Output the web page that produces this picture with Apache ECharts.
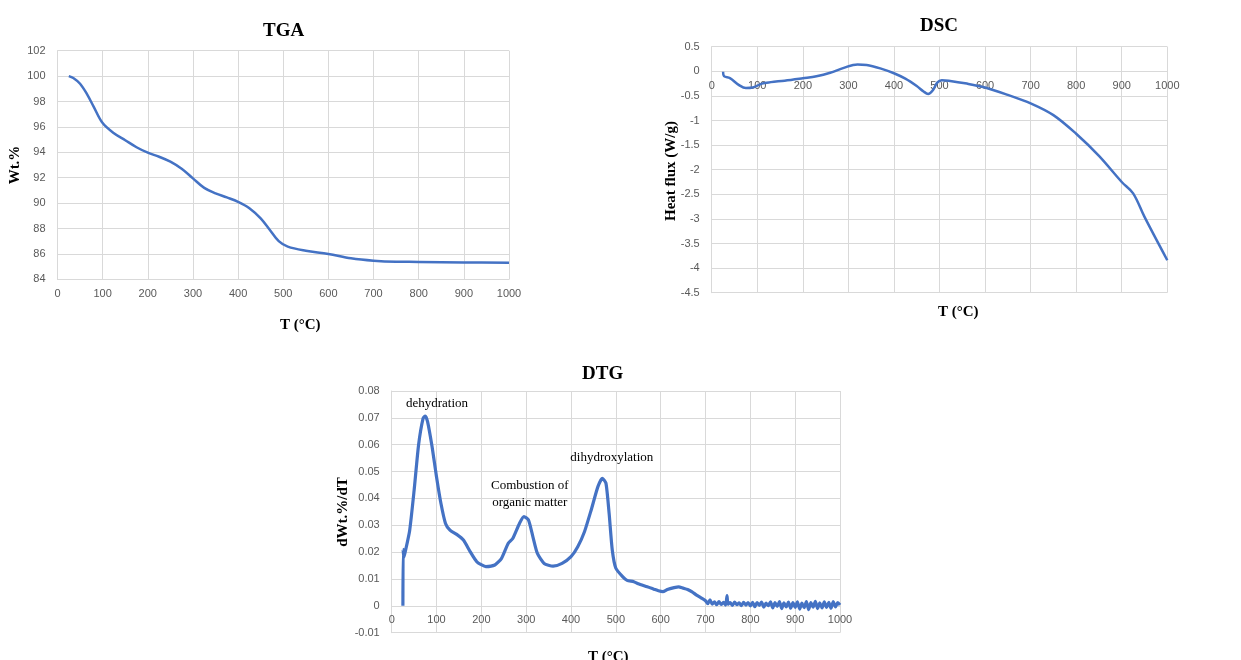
<!DOCTYPE html>
<html>
<head>
<meta charset="utf-8">
<script src="https://cdn.jsdelivr.net/npm/echarts@6/dist/echarts.min.js"></script>
<style>
  html, body { margin: 0; padding: 0; background: #fff; }
  #chart { width: 1241px; height: 660px; }
</style>
</head>
<body>
<div id="chart"></div>
<script>
// Thermal analysis curves: TGA (mass loss), DSC (heat flux), DTG (derivative of mass loss)

// TGA: temperature (°C) and weight %
const tgaT = [25, 35, 50, 65, 80, 100, 125, 150, 175, 200, 225, 250, 275, 300, 325, 350, 375, 400, 425, 450, 470, 490, 510, 550, 600, 650, 700, 750, 800, 900, 1000];
const tgaW = [100, 99.85, 99.4, 98.6, 97.6, 96.3, 95.5, 94.95, 94.4, 93.97, 93.65, 93.26, 92.7, 91.95, 91.2, 90.77, 90.45, 90.1, 89.6, 88.8, 87.9, 87.0, 86.57, 86.25, 86.0, 85.65, 85.46, 85.38, 85.37, 85.33, 85.3];

// DSC: temperature (°C) and heat flux (W/g)
const dscT = [25, 27, 40, 60, 75, 90, 110, 130, 160, 200, 230, 260, 290, 320, 340, 370, 400, 425, 450, 465, 475, 485, 495, 505, 520, 560, 600, 650, 700, 750, 800, 850, 900, 925, 950, 1000];
const dscH = [-0.01, -0.1, -0.14, -0.28, -0.34, -0.33, -0.25, -0.22, -0.19, -0.14, -0.1, -0.03, 0.07, 0.14, 0.13, 0.06, -0.04, -0.15, -0.3, -0.41, -0.46, -0.39, -0.23, -0.18, -0.19, -0.25, -0.33, -0.48, -0.65, -0.89, -1.27, -1.72, -2.25, -2.48, -2.96, -3.84];

// DTG: temperature (°C) and dWt.%/dT
const dtgT = [25, 25.5, 27, 30, 40, 50, 60, 70, 75, 80, 90, 100, 110, 120, 130, 145, 160, 175, 190, 210, 230, 245, 260, 270, 285, 295, 305, 315, 325, 340, 360, 380, 400, 415, 430, 445, 460, 470, 478, 485, 492, 500, 515, 525, 540, 550, 570, 585, 595, 605, 615, 630, 640, 650, 660, 670, 680, 690,
  700, 705, 710, 715, 720, 725, 730, 735, 740, 745, 748, 750, 755, 760, 765, 770, 775, 780, 785, 790, 795, 800, 805, 810, 815, 820, 825, 830, 835, 840, 845, 850, 855, 860, 865, 870, 875, 880, 885, 890, 895, 900, 905, 910, 915, 920, 925, 930, 935, 940, 945, 950, 955, 960, 965, 970, 975, 980, 985, 990, 995, 1000];
const dtgV = [0, 0.021, 0.018, 0.02, 0.028, 0.043, 0.06, 0.0698, 0.0707, 0.0686, 0.0593, 0.048, 0.038, 0.0307, 0.0282, 0.0266, 0.0245, 0.0202, 0.0164, 0.0146, 0.0152, 0.0177, 0.0233, 0.0251, 0.0307, 0.0332, 0.032, 0.0257, 0.0195, 0.0158, 0.0148, 0.0158, 0.0183, 0.022, 0.0276, 0.0357, 0.0444, 0.0475, 0.0456, 0.0344, 0.0208, 0.014, 0.0109, 0.0095, 0.009, 0.0082, 0.0071, 0.0062, 0.0056, 0.0053, 0.0061, 0.0068, 0.0071, 0.0066, 0.0061, 0.0052, 0.004, 0.003,
  0.0019, 0.0008, 0.0022, 0.0006, 0.0015, 0.0004, 0.0016, 0.0005, 0.0013, 0.0003, 0.0038, 0.0006, 0.0012, 0.0002, 0.0014, 0.0004, 0.0011, 0.0001, 0.0013, 0.0003, 0.0012, 0.0000, 0.0013, -0.0003, 0.0012, 0.0002, 0.0014, -0.0005, 0.0010, 0.0001, 0.0015, -0.0008, 0.0012, -0.0002, 0.0016, -0.0010, 0.0011, -0.0004, 0.0014, -0.0009, 0.0012, -0.0006, 0.0015, -0.0012, 0.0010, -0.0007, 0.0016, -0.0014, 0.0012, -0.0005, 0.0017, -0.0010, 0.0011, -0.0008, 0.0015, -0.0006, 0.0013, -0.0009, 0.0016, -0.0004, 0.0012, 0.0003];

// DTG event labels: [text, T, value]
const dtgEvents = [
  ['dehydration', 101, 0.0753],
  ['Combustion of\norganic matter', 308, 0.0418],
  ['dihydroxylation', 491, 0.0552]
];

// Y ranges: [min, max, interval]
const tgaY = [84, 102, 2];
const dscY = [-4.5, 0.5, 0.5];
const dtgY = [-0.01, 0.08, 0.01];

const pair = (xs, ys) => xs.map((x, i) => [x, ys[i]]);

const BLUE = '#4472C4';
const GRID = '#d9d9d9';
const TICK = '#595959';
const SANS = 'Liberation Sans';
const SERIF = 'Liberation Serif';

const grids = [
  { left: 57.5, top: 50.7, width: 451.5, height: 228.6 },
  { left: 711.7, top: 46.7, width: 455.6, height: 246 },
  { left: 391.7, top: 391, width: 448.3, height: 241.7 }
];

// Temperature axis crosses the value axis at 0 when the range spans zero
function xAx(gridIndex, yr) {
  const h = grids[gridIndex].height;
  const crossesZero = yr[0] < 0 && yr[1] > 0;
  const offset = crossesZero ? -(0 - yr[0]) / (yr[1] - yr[0]) * h : 0;
  return {
    type: 'value', gridIndex, min: 0, max: 1000, interval: 100, position: 'bottom', offset,
    axisLine: { show: true, onZero: false, lineStyle: { color: GRID, width: 1 } },
    axisTick: { show: false },
    axisLabel: { color: TICK, fontFamily: SANS, fontSize: 11, margin: 9, showMaxLabel: true, showMinLabel: true, formatter: v => String(v) },
    splitLine: { show: true, lineStyle: { color: GRID, width: 1 } }
  };
}
function yAx(gridIndex, yr, fmt) {
  return {
    type: 'value', gridIndex, min: yr[0], max: yr[1], interval: yr[2],
    axisLine: { show: true, onZero: false, lineStyle: { color: GRID, width: 1 } },
    axisTick: { show: false },
    axisLabel: { color: TICK, fontFamily: SANS, fontSize: 11, margin: 12, formatter: fmt },
    splitLine: { show: true, lineStyle: { color: GRID, width: 1 } }
  };
}
function heading(text, x, y, size) {
  return { type: 'text', left: x, top: y, style: { text, font: 'bold ' + size + 'px "' + SERIF + '"', fill: '#000', textAlign: 'center', textVerticalAlign: 'middle' } };
}
function sideHeading(text, x, y) {
  return { type: 'text', x, y, rotation: Math.PI / 2, style: { text, font: 'bold 15px "' + SERIF + '"', fill: '#000', textAlign: 'center', textVerticalAlign: 'middle' } };
}

const chart = echarts.init(document.getElementById('chart'), null, { renderer: 'canvas' });
chart.setOption({
  animation: false,
  backgroundColor: '#fff',
  grid: grids,
  xAxis: [xAx(0, tgaY), xAx(1, dscY), xAx(2, dtgY)],
  yAxis: [
    yAx(0, tgaY),
    yAx(1, dscY, v => String(+v.toFixed(1))),
    yAx(2, dtgY, v => String(+v.toFixed(2)))
  ],
  series: [
    { type: 'line', xAxisIndex: 0, yAxisIndex: 0, data: pair(tgaT, tgaW), smooth: 0.35, showSymbol: false, lineStyle: { color: BLUE, width: 2.5 } },
    { type: 'line', xAxisIndex: 1, yAxisIndex: 1, data: pair(dscT, dscH), smooth: 0.35, showSymbol: false, lineStyle: { color: BLUE, width: 2.5 } },
    {
      type: 'line', xAxisIndex: 2, yAxisIndex: 2, data: pair(dtgT, dtgV), smooth: 0.2, showSymbol: false,
      lineStyle: { color: BLUE, width: 3.2 },
      markPoint: {
        symbol: 'circle', symbolSize: 0, silent: true,
        label: { show: true, position: 'inside', color: '#000', fontFamily: SERIF, fontSize: 13, lineHeight: 17, align: 'center', formatter: p => p.name },
        data: dtgEvents.map(e => ({ name: e[0], coord: [e[1], e[2]] }))
      }
    }
  ],
  graphic: [
    heading('TGA', 263, 22, 19),
    heading('DSC', 920, 17, 19),
    heading('DTG', 582, 365, 19),
    heading('T (°C)', 280, 318, 15),
    heading('T (°C)', 938, 305, 15),
    heading('T (°C)', 588, 650, 15),
    sideHeading('Wt.%', 15, 165),
    sideHeading('Heat flux (W/g)', 671, 171),
    sideHeading('dWt.%/dT', 343, 512)
  ]
});
</script>
</body>
</html>
